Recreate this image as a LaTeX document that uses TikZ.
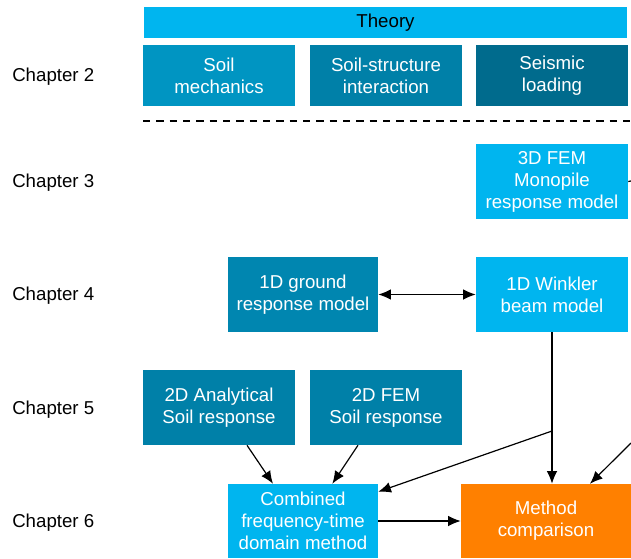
\documentclass[tikz,border=0pt]{standalone}
\usepackage{fontspec}
\setmainfont{Liberation Sans}
\usepackage{tikz}
\usetikzlibrary{arrows.meta, calc}
\definecolor{TheoryCyan}{HTML}{00B5EF}
\definecolor{SoilBlue}{HTML}{0095C2}
\definecolor{SsiBlue}{HTML}{0080A8}
\definecolor{SeisBlue}{HTML}{006B8D}
\definecolor{GroundBlue}{HTML}{0086B0}
\definecolor{MethodOrange}{HTML}{FF8000}

\begin{document}
\begin{tikzpicture}[x=0.75pt, y=-0.75pt,
  box/.style={rectangle, fill=#1, text=white, align=center, inner sep=0pt,
    minimum width=114pt, minimum height=56.25pt, font=\fontsize{14}{16.5}\selectfont},
  chap/.style={anchor=west, inner sep=0pt, font=\fontsize{14}{16.5}\selectfont},
  link/.style={-{Latex[length=9.5pt, width=8pt]}, line width=0.9pt},
]
  \useasboundingbox (0,0) rectangle (631,558);
  % chapter labels on the left
  \foreach \n/\y in {2/77, 3/183, 4/296, 5/410, 6/523}
    \node[chap] (ch\n) at (12,\y) {Chapter \n};
  % theory block
  \node[box=TheoryCyan, text=black, minimum width=362.25pt, minimum height=23.25pt] (theory) at (385.5,22.5) {Theory};
  \node[box=SoilBlue, minimum height=45.75pt] (soil) at (219,75.5) {Soil\\mechanics};
  \node[box=SsiBlue, minimum height=45.75pt] (ssi) at (386,75.5) {Soil-structure\\interaction};
  \node[box=SeisBlue, minimum height=45.75pt] (seis) at (552,75.5) {Seismic\\loading};
  \coordinate (dashL) at (143,121);
  \coordinate (dashR) at (631,121);
  \draw[line width=1.5pt, dash pattern=on 5.5pt off 4.5pt] (dashL) -- (dashR);
  % models
  \node[box=TheoryCyan] (fem3) at (552,181.5) {3D FEM\\Monopile\\response model};
  \node[box=GroundBlue, minimum width=112.5pt] (ground) at (303,294.5) {1D ground\\response model};
  \node[box=TheoryCyan] (winkler) at (552,294.5) {1D Winkler\\beam model};
  \node[box=SsiBlue] (anal) at (219,407.5) {2D Analytical\\Soil response};
  \node[box=SsiBlue] (fem2) at (386,407.5) {2D FEM\\Soil response};
  \node[box=TheoryCyan, minimum width=112.5pt, minimum height=55.5pt] (comb) at (303,521) {Combined\\frequency-time\\domain method};
  \node[box=MethodOrange, minimum width=127.5pt, minimum height=55.5pt] (method) at (546,521) {Method\\comparison};
  % connectors
  \coordinate (femOut) at (631,181);
  \coordinate (split) at (552,431);
  \coordinate (rightIn) at (631,443);
  \draw[line width=0.9pt] (fem3.east) -- (femOut);
  \draw[{Latex[length=9.5pt, width=8pt]}-{Latex[length=9.5pt, width=8pt]}, line width=0.9pt] (ground) -- (winkler);
  \draw[link] (winkler.south) -- (winkler.south |- method.north);
  \draw[link] (split) -- ([yshift=-6pt]comb.north east);
  \draw[link] (rightIn) -- ([xshift=33pt]method.north);
  \draw[link] ([xshift=21pt]anal.south) -- ([xshift=-22.5pt]comb.north);
  \draw[link] ([xshift=-21pt]fem2.south) -- ([xshift=22pt]comb.north);
  \draw[link] (comb) -- (method);
\end{tikzpicture}
\end{document}
